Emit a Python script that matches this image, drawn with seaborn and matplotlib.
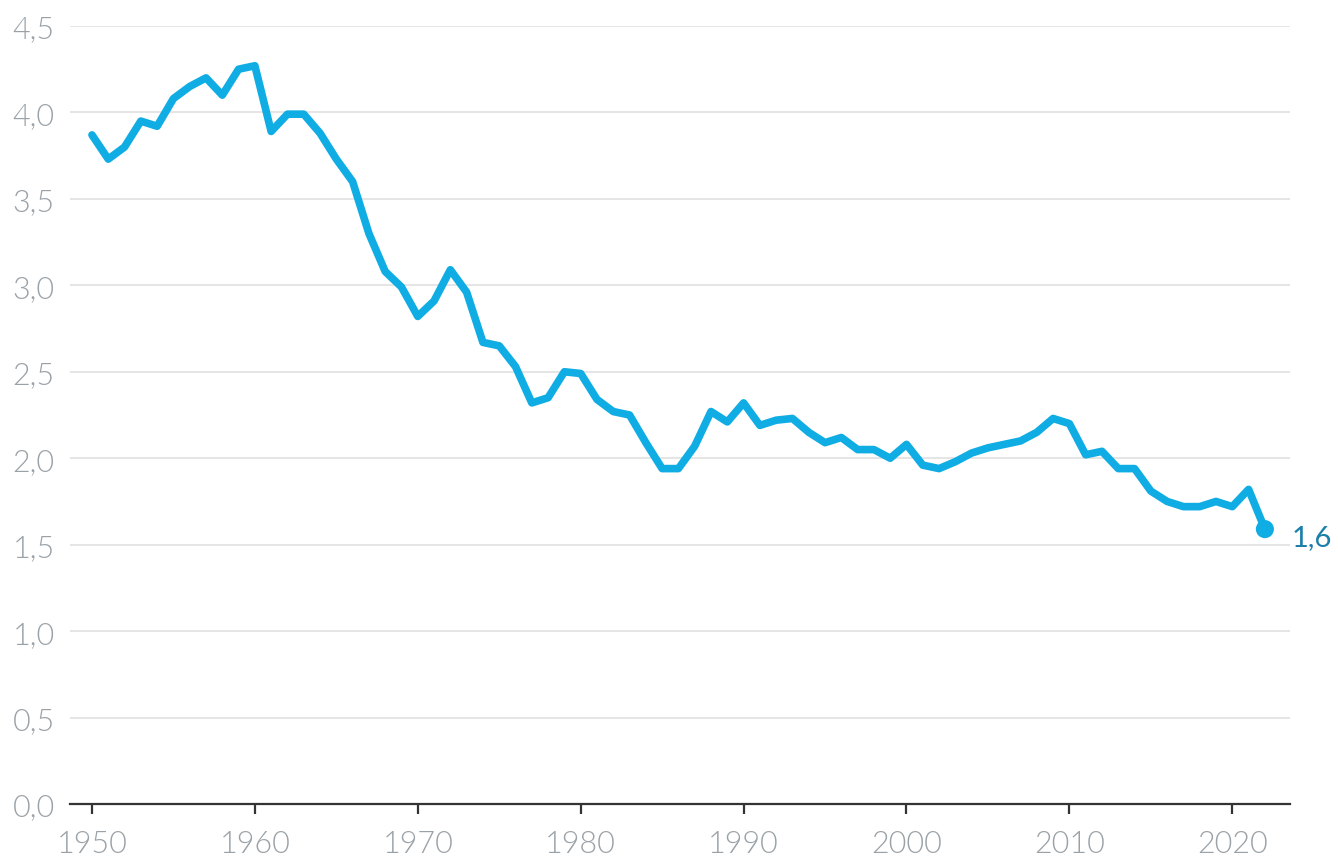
import numpy as np
import pandas as pd
import matplotlib.pyplot as plt
import seaborn as sns

# Values
years = list(range(1950, 2023))
values = [
    3.87, 3.73, 3.80, 3.95, 3.92, 4.08, 4.15, 4.20, 4.10, 4.25,  # 1950s
    4.27, 3.89, 3.99, 3.99, 3.88, 3.73, 3.60, 3.30, 3.08, 2.99,  # 1960s
    2.82, 2.91, 3.09, 2.96, 2.67, 2.65, 2.53, 2.32, 2.35, 2.50,  # 1970s
    2.49, 2.34, 2.27, 2.25, 2.09, 1.94, 1.94, 2.07, 2.27, 2.21,  # 1980s
    2.32, 2.19, 2.22, 2.23, 2.15, 2.09, 2.12, 2.05, 2.05, 2.00,  # 1990s
    2.08, 1.96, 1.94, 1.98, 2.03, 2.06, 2.08, 2.10, 2.15, 2.23,  # 2000s
    2.20, 2.02, 2.04, 1.94, 1.94, 1.81, 1.75, 1.72, 1.72, 1.75,  # 2010s
    1.72, 1.82, 1.59,                                            # 2020s
]
end_label = "1,6"
y_ticks = [0, 0.5, 1.0, 1.5, 2.0, 2.5, 3.0, 3.5, 4.0, 4.5]
x_ticks = [1950, 1960, 1970, 1980, 1990, 2000, 2010, 2020]

df = pd.DataFrame({"Year": years, "Value": values})

line_color = "#0fade3"
label_color = "#1a7fab"
tick_color = "#9aa2a8"

sns.set_style("white")
plt.rcParams['font.family'] = ['Lato', 'DejaVu Sans']

fig = plt.figure(figsize=(13.38, 8.62), dpi=100)
ax = fig.add_axes([0.0523, 0.0661, 0.9641 - 0.0523, 0.9687 - 0.0661])

sns.lineplot(data=df, x="Year", y="Value", color=line_color, linewidth=5.5,
             ax=ax, clip_on=False, zorder=3)

# End point and its label
last = df.iloc[-1]
ax.scatter([last["Year"]], [last["Value"]], s=170, color=line_color,
           zorder=4, clip_on=False, edgecolors='none')
ax.annotate(end_label, (last["Year"], last["Value"]), xytext=(19, -6),
            textcoords='offset points', color=label_color, fontsize=21,
            va='center', ha='left', annotation_clip=False)

ax.set_xlim(1948.65, 2023.54)
ax.set_ylim(0, 4.5)
ax.set_yticks(y_ticks)
ax.set_yticklabels([f"{t:.1f}".replace('.', ',') for t in y_ticks])
ax.set_xticks(x_ticks)
ax.set_xticklabels([str(t) for t in x_ticks])

ax.grid(axis='y', color='#e3e3e3', linewidth=1.3)
ax.grid(axis='x', visible=False)
ax.set_axisbelow(True)

for side in ['top', 'right', 'left']:
    ax.spines[side].set_visible(False)
ax.spines['bottom'].set_color('#333333')
ax.spines['bottom'].set_linewidth(1.6)

ax.tick_params(axis='x', bottom=True, direction='out', length=7, width=1.6,
               color='#333333', labelsize=22, labelcolor=tick_color, pad=11)
ax.tick_params(axis='y', left=False, length=0, labelsize=22,
               labelcolor=tick_color, pad=11)
for lbl in ax.get_xticklabels() + ax.get_yticklabels():
    lbl.set_fontweight(300)

ax.set_xlabel("")
ax.set_ylabel("")

plt.savefig("out.png", dpi=100)
